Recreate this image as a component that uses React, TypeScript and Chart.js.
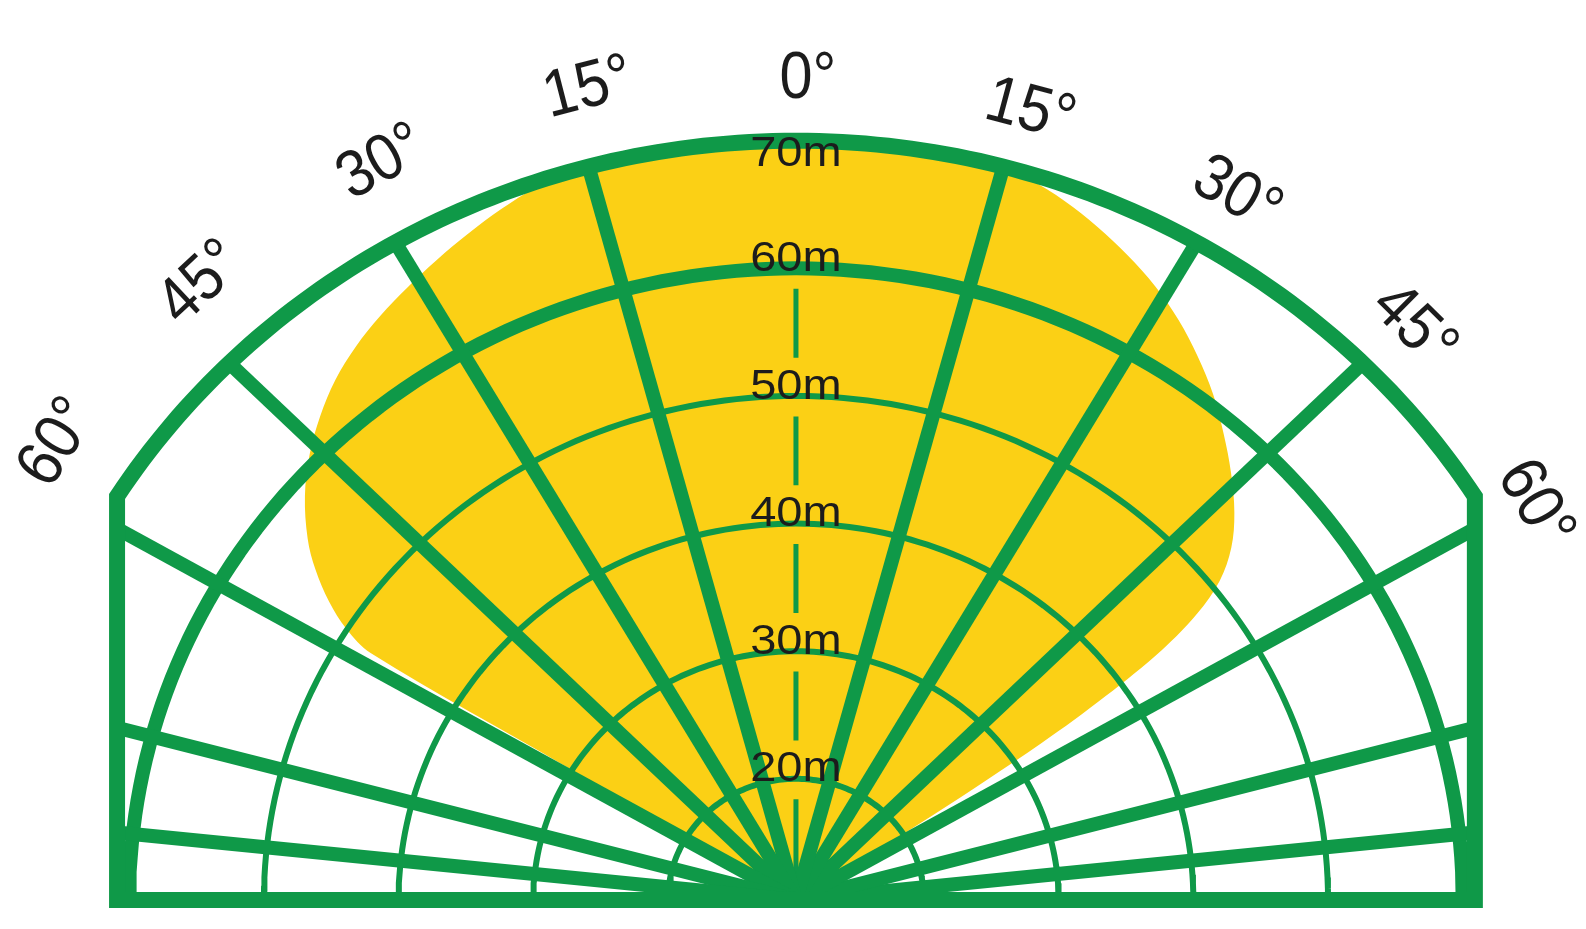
import React, { useEffect, useRef } from 'react';
import { Chart, registerables } from 'chart.js';

Chart.register(...registerables);

// distance rings (m); the sensor sits at ORIGIN_DISTANCE on this scale
const RING_DISTANCES = [20, 30, 40, 50, 60, 70];
const HEAVY_RINGS = [60, 70];
const ORIGIN_DISTANCE = 10.5;

// spokes, degrees off the centre line
const SPOKE_ANGLES = [-84, -75, -60, -45, -30, -15, 15, 30, 45, 60, 75, 84];

// angle labels round the top
const ANGLE_TICKS = [-60, -45, -30, -15, 0, 15, 30, 45, 60];

// detection zone outline: bearing (deg) and range (m)
const ZONE_ANGLES = [
  -58.5, -58.5, -58.5, -57.5, -56, -54, -52, -49, -46, -43, -40, -37, -34, -31, -28,
  -25, -22, -19, -16, -12, -8, -4, 0, 4, 8, 12, 15, 17, 20, 23, 26, 29, 32, 35, 38,
  41, 44, 47, 49.5, 51.5, 53, 54.2, 55.2, 56, 56.8, 57.5,
];
const ZONE_RANGES = [
  10.5, 30.5, 47.5, 50.1, 52.3, 54.6, 56.5, 58.8, 60.7, 62.3, 63.7, 64.8, 65.7, 66.5, 67.3,
  68.1, 68.9, 69.6, 70, 70, 70, 70, 70, 70, 70, 70, 70, 69.6, 68.8, 67.8, 66.7, 65.5, 64.1, 62.5, 60.8,
  58.9, 57, 55, 53, 50.7, 47.8, 44, 38.5, 32.5, 22.5, 10.5,
];

const GREEN = '#0F9948';
const YELLOW = '#FBD015';
const INK = '#1c1c1c';

// field is cut by straight sides at this half width (radius units)
const SIDE_HALF_WIDTH = 50.4;
const VIEW_X = [-59.09, 58.65];
const VIEW_Y = [-2.27, 70.53];

const DEG = Math.PI / 180;
const radius = (d: number) => d - ORIGIN_DISTANCE;
const toXY = (angle: number, r: number) => ({
  x: r * Math.sin(angle * DEG),
  y: r * Math.cos(angle * DEG),
});

// where an angle label sits: left ones lean in a little, right ones sit closer
const labelSpot = (a: number) => {
  if (a < 0) return { angle: a * 0.96, r: 65.4 };
  if (a > 0) return { angle: a * 0.995, r: a >= 60 ? 63 : 64.2 };
  return { angle: 0, r: 64.3 };
};

const ringPoints = (d: number) => {
  const r = radius(d);
  const lim = r > SIDE_HALF_WIDTH ? Math.asin(SIDE_HALF_WIDTH / r) / DEG : 90;
  const pts = [];
  const n = 140;
  for (let i = 0; i <= n; i++) {
    pts.push(toXY(-lim + (2 * lim * i) / n, r));
  }
  return pts;
};

const spokeEnd = (angle: number) => {
  const outer = radius(Math.max(...RING_DISTANCES));
  const s = Math.abs(Math.sin(angle * DEG));
  const r = s * outer > SIDE_HALF_WIDTH ? SIDE_HALF_WIDTH / s : outer;
  return toXY(angle, r);
};

const ringLabelR = (d: number) =>
  d === Math.max(...RING_DISTANCES) ? radius(d) - 1.1 : radius(d) + 0.7;

const labelPlugin = {
  id: 'fieldLabels',
  afterDatasetsDraw(chart: any) {
    const { ctx, scales } = chart;
    const xs = scales.x;
    const ys = scales.y;
    ctx.save();
    ctx.fillStyle = INK;
    ctx.textBaseline = 'middle';

    ctx.textAlign = 'center';
    ctx.font = '42px "Liberation Sans", Arial, sans-serif';
    RING_DISTANCES.forEach((d) => {
      const px = xs.getPixelForValue(0);
      const py = ys.getPixelForValue(ringLabelR(d));
      ctx.save();
      ctx.translate(px, py);
      ctx.scale(1.12, 1);
      ctx.fillText(`${d}m`, 0, 0);
      ctx.restore();
    });

    // numeral centred on the bearing, degree sign hanging off the end
    ctx.textAlign = 'left';
    ctx.font = '66px "Liberation Sans", Arial, sans-serif';
    ANGLE_TICKS.forEach((a) => {
      const num = `${Math.abs(a)}`;
      const w = ctx.measureText(num).width;
      const spot = labelSpot(a);
      const p = toXY(spot.angle, spot.r);
      ctx.save();
      ctx.translate(xs.getPixelForValue(p.x), ys.getPixelForValue(p.y));
      ctx.rotate(spot.angle * DEG);
      ctx.scale(0.9, 1);
      ctx.fillText(`${num}°`, -w / 2, 0);
      ctx.restore();
    });
    ctx.restore();
  },
};

export default function App() {
  const canvasRef = useRef<HTMLCanvasElement>(null);
  const chartRef = useRef<Chart | null>(null);

  useEffect(() => {
    if (!canvasRef.current) return;
    if (chartRef.current) chartRef.current.destroy();

    const zone = ZONE_ANGLES.map((a, i) => toXY(a, radius(ZONE_RANGES[i])));

    const thinRings = RING_DISTANCES.filter((d) => !HEAVY_RINGS.includes(d)).map((d) => ({
      data: ringPoints(d),
      borderColor: GREEN,
      borderWidth: 6,
      order: 4,
    }));

    const outerD = Math.max(...RING_DISTANCES);
    const heavyRings = HEAVY_RINGS.filter((d) => d !== outerD).map((d) => ({
      data: ringPoints(d),
      borderColor: GREEN,
      borderWidth: 14,
      order: 2,
    }));

    const spokes = SPOKE_ANGLES.map((a) => ({
      data: [{ x: 0, y: 0 }, spokeEnd(a)],
      borderColor: GREEN,
      borderWidth: 14,
      order: 2,
    }));

    // centre line, broken round the distance labels
    const gap = 2.3;
    const centre: any[] = [{ x: 0, y: 0 }, { x: 0, y: ringLabelR(RING_DISTANCES[0]) - gap }];
    for (let i = 0; i < RING_DISTANCES.length - 2; i++) {
      centre.push({ x: 0, y: null });
      centre.push({ x: 0, y: ringLabelR(RING_DISTANCES[i]) + gap });
      centre.push({ x: 0, y: ringLabelR(RING_DISTANCES[i + 1]) - gap });
    }

    const W = SIDE_HALF_WIDTH;
    const frame = [{ x: -W, y: 0 }, ...ringPoints(outerD), { x: W, y: 0 }, { x: -W, y: 0 }];

    const datasets: any[] = [
      {
        data: frame,
        borderColor: GREEN,
        borderWidth: 16,
        borderJoinStyle: 'miter',
        borderCapStyle: 'square',
        order: 1,
      },
      ...spokes,
      ...heavyRings,
      {
        data: centre,
        borderColor: GREEN,
        borderWidth: 5,
        spanGaps: false,
        order: 3,
      },
      ...thinRings,
      {
        data: zone,
        borderColor: YELLOW,
        borderWidth: 0,
        backgroundColor: YELLOW,
        fill: 'shape',
        tension: 0.35,
        order: 6,
      },
    ].map((ds) => ({ showLine: true, pointRadius: 0, pointHoverRadius: 0, ...ds }));

    chartRef.current = new Chart(canvasRef.current, {
      type: 'scatter',
      data: { datasets },
      options: {
        animation: false,
        responsive: false,
        events: [],
        layout: { padding: 0 },
        scales: {
          x: { type: 'linear', min: VIEW_X[0], max: VIEW_X[1], display: false },
          y: { type: 'linear', min: VIEW_Y[0], max: VIEW_Y[1], display: false },
        },
        plugins: {
          legend: { display: false },
          tooltip: { enabled: false },
        },
      },
      plugins: [labelPlugin],
    });

    return () => {
      if (chartRef.current) {
        chartRef.current.destroy();
        chartRef.current = null;
      }
    };
  }, []);

  return (
    <div style={{ position: 'fixed', left: 0, top: 0, width: 1586, height: 929, background: '#fff' }}>
      <canvas ref={canvasRef} width={1586} height={929}></canvas>
    </div>
  );
}
